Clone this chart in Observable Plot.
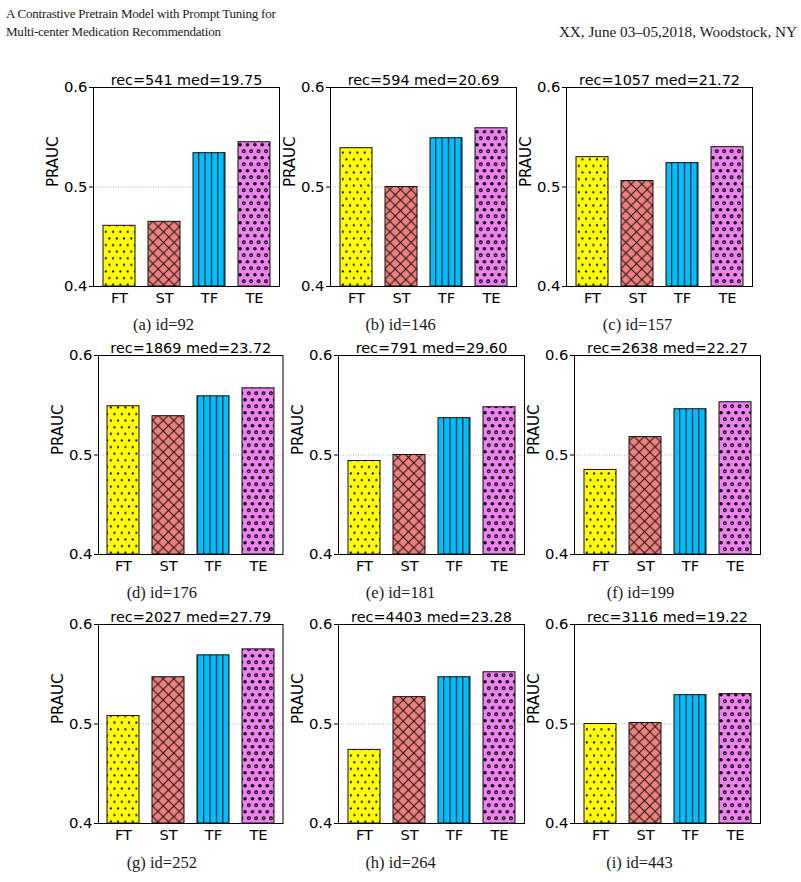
<!DOCTYPE html>
<html>
<head>
<meta charset="utf-8">
<script src="https://cdn.jsdelivr.net/npm/d3@7"></script>
<script src="https://cdn.jsdelivr.net/npm/@observablehq/plot@0.6"></script>
<style>
  body { margin: 0; background: #fff; }
  #page { position: relative; width: 801px; height: 882px; overflow: hidden; background: #fff; }
  .hdr { position: absolute; font-family: "Liberation Serif", serif; font-size: 13px; line-height: 16px; color: #1a1a1a; white-space: nowrap; }
  .panel { position: absolute; }
</style>
</head>
<body>
<div id="page">
  <div class="hdr" style="left:6px; top:6px; letter-spacing:-0.2px;">A Contrastive Pretrain Model with Prompt Tuning for</div>
  <div class="hdr" style="left:6px; top:24px; letter-spacing:-0.2px;">Multi-center Medication Recommendation</div>
  <div class="hdr" style="right:4px; top:23.5px; font-size:15.2px;">XX, June 03–05,2018, Woodstock, NY</div>
</div>
<script>
// ---- data ----
const methods = ["FT", "ST", "TF", "TE"];
const panelLetters = ["a", "b", "c", "d", "e", "f", "g", "h", "i"];
const centerIds = [92, 146, 157, 176, 181, 199, 252, 264, 443];
const recCounts = [541, 594, 1057, 1869, 791, 2638, 2027, 4403, 3116];
const medValues = ["19.75", "20.69", "21.72", "23.72", "29.60", "22.27", "27.79", "23.28", "19.22"];
const ftValues = [0.461, 0.539, 0.530, 0.549, 0.494, 0.485, 0.508, 0.474, 0.500];
const stValues = [0.465, 0.500, 0.506, 0.539, 0.500, 0.518, 0.547, 0.527, 0.501];
const tfValues = [0.534, 0.549, 0.524, 0.559, 0.537, 0.546, 0.569, 0.547, 0.529];
const teValues = [0.545, 0.559, 0.540, 0.567, 0.548, 0.553, 0.575, 0.552, 0.530];
const yDomain = [0.4, 0.6];
const yTicks = [0.4, 0.5, 0.6];
const gridValue = [0.5];
const yLabel = "PRAUC";

// ---- layout ----
const frameLeft = [93, 330, 566, 98, 338, 574, 98, 338, 574];
const frameTop = [86.5, 86.5, 86.5, 355, 355, 355, 624.3, 624.3, 624.3];
const frameWidth = [186, 186, 186, 184.5, 186, 186, 184.5, 186, 186];
const captionDx = [-23, -23, -22, -29, -31, -27, -29, -31, -28];
const captionDy = [43, 43, 43, 43.5, 43.5, 43.5, 44.5, 44.5, 44.5];
const frameHeight = 199;
const mL = 62, mT = 30, mR = 12, mB = 58;

const colors = {FT: "#ffff00", ST: "#f08080", TF: "#00bfff", TE: "#ee82ee"};

function addPatterns(svg, pid) {
  const defs = d3.select(svg).insert("defs", ":first-child");
  // FT: dots
  let p = defs.append("pattern").attr("id", `${pid}-FT`).attr("patternUnits", "userSpaceOnUse")
    .attr("width", 7.3).attr("height", 13.2);
  p.append("rect").attr("width", 7.3).attr("height", 13.2).attr("fill", colors.FT);
  p.append("circle").attr("cx", 1.8).attr("cy", 3.3).attr("r", 1.1).attr("fill", "#000");
  p.append("circle").attr("cx", 5.45).attr("cy", 9.9).attr("r", 1.1).attr("fill", "#000");
  // ST: crosshatch
  const s = 10.6;
  p = defs.append("pattern").attr("id", `${pid}-ST`).attr("patternUnits", "userSpaceOnUse")
    .attr("width", s).attr("height", s);
  p.append("rect").attr("width", s).attr("height", s).attr("fill", colors.ST);
  p.append("path").attr("d", `M0,0L${s},${s}M0,${s}L${s},0M${-s/2},${s/2}L${s/2},${-s/2}M${s/2},${s*1.5}L${s*1.5},${s/2}`)
    .attr("stroke", "#111").attr("stroke-width", 1).attr("fill", "none");
  // TF: vertical lines
  const w = 6.4;
  p = defs.append("pattern").attr("id", `${pid}-TF`).attr("patternUnits", "userSpaceOnUse")
    .attr("width", w).attr("height", 10).attr("x", 0.6);
  p.append("rect").attr("width", w).attr("height", 10).attr("fill", colors.TF);
  p.append("rect").attr("x", 0).attr("width", 1.2).attr("height", 10).attr("fill", "#0b2530");
  // TE: dots and rings
  p = defs.append("pattern").attr("id", `${pid}-TE`).attr("patternUnits", "userSpaceOnUse")
    .attr("width", 7.4).attr("height", 13);
  p.append("rect").attr("width", 7.4).attr("height", 13).attr("fill", colors.TE);
  p.append("circle").attr("cx", 5.55).attr("cy", 3.25).attr("r", 1.35).attr("fill", "none").attr("stroke", "#000").attr("stroke-width", 1.1);
  p.append("circle").attr("cx", 1.85).attr("cy", 9.75).attr("r", 1.7).attr("fill", "#000");
}

const page = document.getElementById("page");
const valueLists = [ftValues, stValues, tfValues, teValues];

panelLetters.forEach((letter, k) => {
  const pid = `p${letter}`;
  const rows = methods.map((m, j) => ({method: m, value: valueLists[j][k]}));
  const width = mL + frameWidth[k] + mR;
  const height = mT + frameHeight + mB;
  const chart = Plot.plot({
    width, height,
    marginLeft: mL, marginTop: mT, marginRight: mR, marginBottom: mB,
    style: {fontFamily: "DejaVu Sans", fontSize: "14px", color: "#000", background: "transparent", overflow: "visible"},
    x: {domain: methods, paddingInner: 0.29, paddingOuter: 0.19, label: null, axis: null},
    y: {domain: yDomain, label: null, axis: null},
    marks: [
      Plot.ruleY(gridValue, {stroke: "#b5b5b5", strokeWidth: 1, strokeDasharray: "1,1.5"}),
      ...methods.map(m => Plot.barY(rows.filter(r => r.method === m), {
        x: "method", y1: yDomain[0], y2: "value",
        fill: `url(#${pid}-${m})`, stroke: "#111", strokeWidth: 1
      })),
      Plot.frame({stroke: "#000", strokeWidth: 1}),
      Plot.axisY(yTicks, {tickSize: 4, tickPadding: 2, tickFormat: d => d.toFixed(1), fontSize: 14.8, label: null, stroke: "#000"}),
      Plot.axisX(methods, {tickSize: 0, tickPadding: 6, fontSize: 14.6, label: null}),
      Plot.text([`rec=${recCounts[k]} med=${medValues[k]}`], {frameAnchor: "top", lineAnchor: "bottom", dy: -3, fontSize: 14.4}),
      Plot.text([yLabel], {frameAnchor: "left", rotate: -90, dx: -40, fontSize: 15}),
      Plot.text([`(${letter}) id=${centerIds[k]}`], {frameAnchor: "bottom", dx: captionDx[k], dy: captionDy[k], fontFamily: "Liberation Serif", fontSize: 16.5, fill: "#1a1a1a"})
    ]
  });
  addPatterns(chart, pid);
  chart.classList.add("panel");
  chart.style.left = (frameLeft[k] - mL) + "px";
  chart.style.top = (frameTop[k] - mT) + "px";
  chart.style.position = "absolute";
  page.appendChild(chart);
});
</script>
</body>
</html>
